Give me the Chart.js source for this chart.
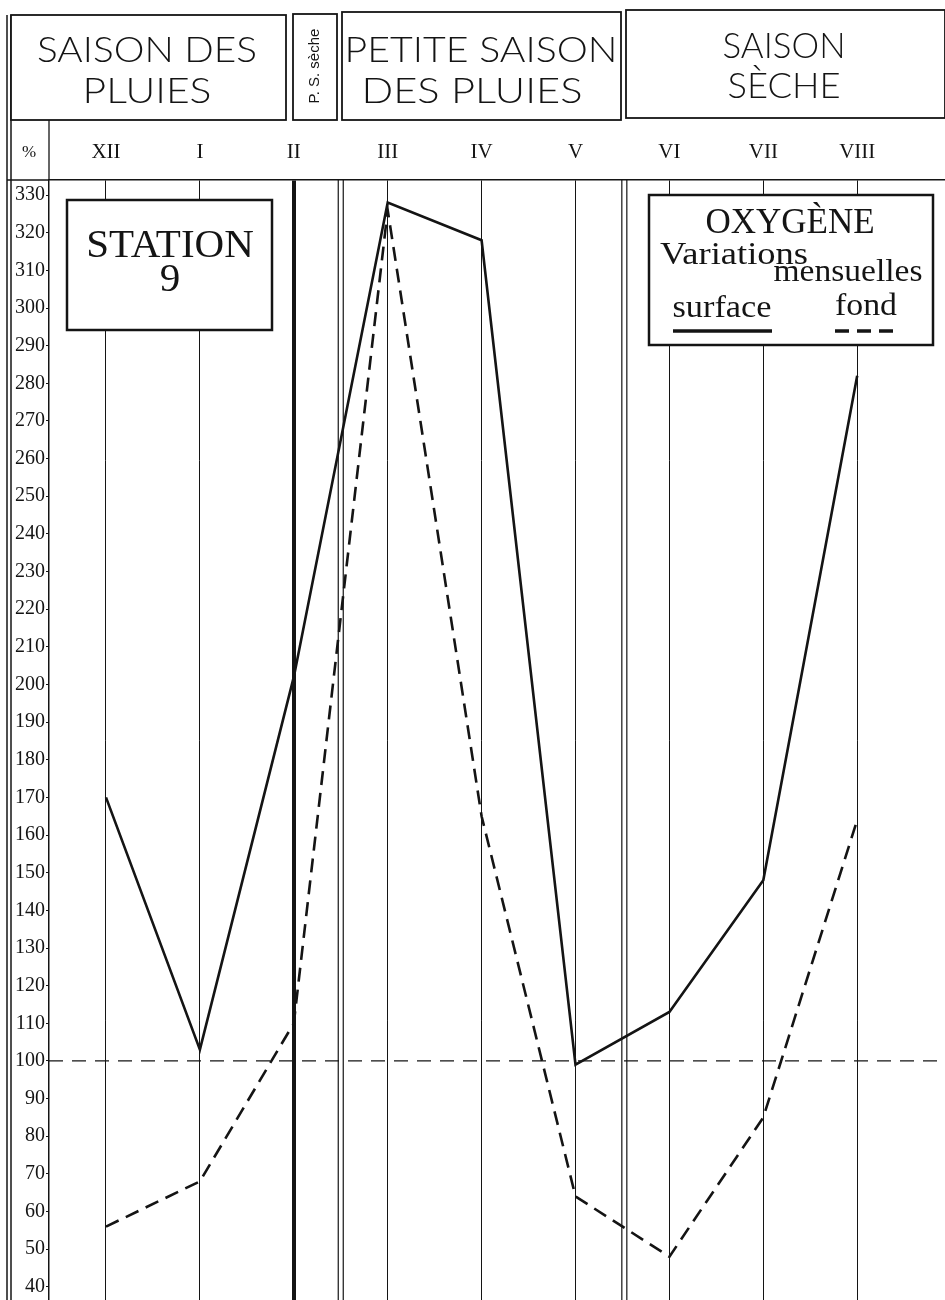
<!DOCTYPE html>
<html lang="fr">
<head>
  <meta charset="UTF-8">
  <title>Station 9 : Oxygène, variations mensuelles</title>
  <style>
    html, body { margin: 0; padding: 0; background: #fff; }
    #wrap { width: 945px; height: 1300px; }
  </style>
</head>
<body>

<div id="wrap"><canvas id="oxyChart" width="945" height="1300"></canvas></div>

<script src="https://cdn.jsdelivr.net/npm/chart.js"></script>

<script>
  // Months of the survey (December to August)
  var months = ['XII', 'I', 'II', 'III', 'IV', 'V', 'VI', 'VII', 'VIII'];

  // Oxygen saturation, %
  var surface = [170, 103, 202, 328, 318, 99, 113, 148, 282];
  var fond = [56, 68, 110, 326, 165, 64, 48, 85, 164];

  var yTicks = [40, 50, 60, 70, 80, 90, 100, 110, 120, 130, 140, 150, 160, 170, 180,
                190, 200, 210, 220, 230, 240, 250, 260, 270, 280, 290, 300, 310, 320, 330];

  // Seasons (header) and where they break, in month units
  var seasons = [['SAISON DES', 'PLUIES'], ['P. S. sèche'], ['PETITE SAISON', 'DES PLUIES'], ['SAISON', 'SÈCHE']];
  var seasonBreaks = [2.5, 5.52];

  var INK = '#141414';

  function line(ctx, x1, y1, x2, y2) {
    ctx.beginPath();
    ctx.moveTo(x1, y1);
    ctx.lineTo(x2, y2);
    ctx.stroke();
  }

  function box(ctx, l, t, r, b, w) {
    ctx.fillStyle = '#fff';
    ctx.fillRect(l, t, r - l, b - t);
    ctx.lineWidth = w;
    ctx.strokeStyle = INK;
    ctx.strokeRect(l, t, r - l, b - t);
  }

  // centred text squeezed/stretched to a given width
  function fitText(ctx, txt, cx, y, width) {
    var w = ctx.measureText(txt).width;
    ctx.save();
    ctx.translate(cx, y);
    ctx.scale(width / w, 1);
    ctx.textAlign = 'center';
    ctx.fillText(txt, 0, 0);
    ctx.restore();
  }

  var framePlugin = {
    id: 'frame',
    beforeDatasetsDraw: function(chart) {
      var ctx = chart.ctx, xs = chart.scales.x, ys = chart.scales.y, a = chart.chartArea;
      ctx.save();
      ctx.strokeStyle = INK;
      ctx.lineWidth = 1.2;
      seasonBreaks.forEach(function(v) {
        var px = xs.getPixelForValue(v);
        line(ctx, px - 2.5, a.top, px - 2.5, a.bottom);
        line(ctx, px + 2.5, a.top, px + 2.5, a.bottom);
      });
      // 100 % line
      ctx.lineWidth = 1.3;
      ctx.setLineDash([14, 9]);
      var py = ys.getPixelForValue(100);
      line(ctx, a.left, py, a.right, py);
      ctx.restore();
    },
    afterDraw: function(chart) {
      var ctx = chart.ctx, a = chart.chartArea;
      ctx.save();

      // outer frame
      ctx.strokeStyle = INK;
      ctx.lineWidth = 1.5;
      line(ctx, 7, 15, 7, 1300);
      line(ctx, 11, 15, 11, 1300);
      ctx.lineWidth = 1.3;
      line(ctx, a.left, 120, a.left, a.top);
      line(ctx, 7, a.top, a.left, a.top);

      // season header boxes
      var hb = [[11, 15, 286, 120], [293, 14, 337, 120], [342, 12, 621, 120], [626, 10, 945, 118]];
      hb.forEach(function(b) { box(ctx, b[0], b[1], b[2], b[3], 1.8); });

      ctx.fillStyle = INK;
      ctx.textBaseline = 'alphabetic';
      ctx.font = '300 36px Lato, "Liberation Sans"';
      fitText(ctx, seasons[0][0], 147, 62, 220);
      fitText(ctx, seasons[0][1], 147, 103, 129);
      fitText(ctx, seasons[2][0], 481, 62, 273);
      fitText(ctx, seasons[2][1], 472, 103, 221);
      fitText(ctx, seasons[3][0], 784, 58, 123);
      fitText(ctx, seasons[3][1], 784, 98, 113);

      ctx.save();
      ctx.translate(315, 66);
      ctx.rotate(-Math.PI / 2);
      ctx.font = '15px "Liberation Sans"';
      ctx.textAlign = 'center';
      ctx.textBaseline = 'middle';
      ctx.fillText(seasons[1][0], 0, 0);
      ctx.restore();

      // % cell
      ctx.textAlign = 'center';
      ctx.font = '17px "Liberation Serif"';
      ctx.textBaseline = 'middle';
      ctx.fillText('%', 29, 153);

      // station box
      box(ctx, 67, 200, 272, 330, 2.5);
      ctx.fillStyle = INK;
      ctx.textBaseline = 'alphabetic';
      ctx.font = '41px "Liberation Serif"';
      ctx.fillText('STATION', 170, 257);
      ctx.fillText('9', 170, 291);

      // legend box
      box(ctx, 649, 195, 933, 345, 2.5);
      ctx.fillStyle = INK;
      ctx.font = '35px "Liberation Serif"';
      ctx.fillText('OXYGÈNE', 790, 233);
      ctx.font = '31px "Liberation Serif"';
      ctx.textAlign = 'left';
      fitText(ctx, 'Variations', 734, 264, 148);
      ctx.font = '31px "Liberation Serif"';
      fitText(ctx, 'mensuelles', 848, 281, 149);

      var ds = chart.data.datasets;
      ctx.font = '31px "Liberation Serif"';
      fitText(ctx, ds[0].label, 722, 317, 99);
      fitText(ctx, ds[1].label, 866, 315, 62);
      ctx.lineWidth = 3.5;
      ctx.strokeStyle = INK;
      line(ctx, 673, 331, 772, 331);
      ctx.setLineDash([14, 8]);
      line(ctx, 835, 331, 898, 331);

      ctx.restore();
    }
  };

  function pts(values) {
    return values.map(function(v, i) { return { x: i, y: v }; });
  }

  var ctx = document.getElementById('oxyChart').getContext('2d');
  var chart = new Chart(ctx, {
    type: 'line',
    data: {
      datasets: [{
        label: 'surface',
        data: pts(surface),
        borderColor: INK,
        borderWidth: 2.6,
        pointRadius: 0,
        tension: 0
      }, {
        label: 'fond',
        data: pts(fond),
        borderColor: INK,
        borderWidth: 2.6,
        borderDash: [14, 8],
        pointRadius: 0,
        tension: 0
      }]
    },
    options: {
      responsive: false,
      animation: false,
      events: [],
      layout: { padding: { top: 120, left: 10, right: 0, bottom: 0 } },
      plugins: {
        legend: { display: false },
        tooltip: { enabled: false }
      },
      scales: {
        x: {
          type: 'linear',
          position: 'top',
          min: -0.607,
          max: 8.935,
          afterBuildTicks: function(scale) {
            scale.ticks = months.map(function(m, i) { return { value: i }; });
          },
          afterFit: function(scale) {
            scale.height = 60;
            scale.paddingLeft = 0;
            scale.paddingRight = 0;
          },
          ticks: {
            color: INK,
            padding: 15,
            font: { family: '"Liberation Serif"', size: 21 },
            callback: function(v) { return months[v]; }
          },
          grid: {
            drawTicks: false,
            color: INK,
            lineWidth: function(c) { return c.tick && c.tick.value === 2 ? 4 : 1; }
          },
          border: { display: true, color: INK, width: 1.4 }
        },
        y: {
          min: 36.5,
          max: 334,
          afterBuildTicks: function(scale) {
            scale.ticks = yTicks.map(function(v) { return { value: v }; });
          },
          afterFit: function(scale) {
            scale.width = 39;
            scale.paddingTop = 0;
            scale.paddingBottom = 0;
          },
          ticks: {
            color: INK,
            padding: 1,
            font: { family: '"Liberation Serif"', size: 20 }
          },
          grid: {
            drawOnChartArea: false,
            drawTicks: true,
            tickLength: 3,
            color: INK
          },
          border: { display: true, color: INK, width: 1.5 }
        }
      }
    },
    plugins: [framePlugin]
  });
</script>

</body>
</html>
